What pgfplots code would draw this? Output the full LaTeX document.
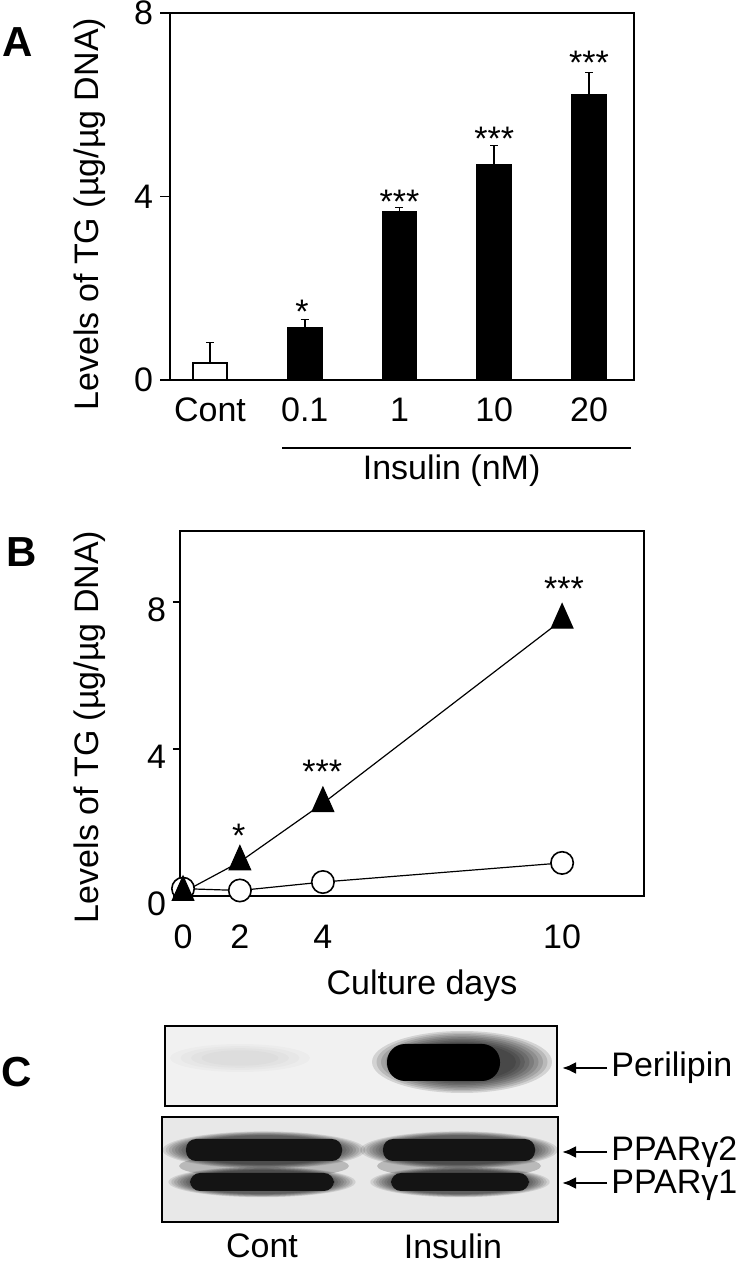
\documentclass[border=0pt]{standalone}
\usepackage{fontspec}
\setmainfont{Liberation Sans}
\usepackage{pgfplots}
\pgfplotsset{compat=1.18}
\usepackage{pgfplotstable}
\usetikzlibrary{arrows.meta}
\definecolor{blotbg}{RGB}{232,232,232}
\definecolor{blotbgtop}{RGB}{241,241,241}

\pgfplotstableread{
x val err
0 0.37 0.46
}\contdata
\pgfplotstableread{
x val err
1 1.13 0.20
2 3.66 0.10
3 4.69 0.42
4 6.22 0.49
}\insdata
\pgfplotstableread{
day pos ctrl ins
0 0 0.20 0.10
2 1.50 0.15 0.93
4 3.69 0.38 2.52
10 10.0 0.90 7.51
}\timedata

\newcommand\band[4]{%
  \foreach \s in {1.30,1.26,1.22,1.18,1.14,1.10,1.06,1.02}{\fill[black,opacity=0.1] (#1,#2) ellipse [x radius={#3*\s}, y radius={#4*\s*1.3}];}
  \fill[black!92, rounded corners=5pt] ({#1-#3},{#2-#4}) rectangle ({#1+#3},{#2+#4});
}

\begin{document}
\begin{tikzpicture}[font=\fontsize{17}{20}\selectfont]
\useasboundingbox (0,0) rectangle (369pt,632.5pt);
% ---------------- Panel A ----------------
\begin{axis}[
  at={(85pt,442.5pt)}, anchor=south west, scale only axis,
  width=232pt, height=183.5pt,
  xmin=-0.422, xmax=4.475, ymin=0, ymax=8,
  axis line style={line width=0.9pt},
  ytick={0,4,8}, ytick pos=left, tick align=outside, major tick length=5pt,
  ytick style={line width=0.9pt, black},
  xtick={0,1,2,3,4}, xticklabels={Cont,0.1,1,10,20}, xtick style={draw=none},
  xticklabel style={yshift=-0.3pt},
  /pgf/number format/assume math mode=true,
  tick label style={font=\fontsize{17}{20}\selectfont},
  ylabel={Levels of TG (µg/µg DNA)},
  ylabel style={at={(axis description cs:-0.172,0.452)}, anchor=center, font=\fontsize{17}{20}\selectfont},
  clip=false,
]
\addplot[ybar, bar width=17pt, bar shift=0pt, fill=white, draw=black, line width=0.8pt,
  error bars/.cd, y dir=plus, y explicit,
  error bar style={line width=0.8pt, black}]
  table[x=x, y=val, y error=err]{\contdata};
\addplot[ybar, bar width=17pt, bar shift=0pt, fill=black, draw=black, line width=0.8pt,
  error bars/.cd, y dir=plus, y explicit,
  error bar style={line width=0.8pt, black}]
  table[x=x, y=val, y error=err]{\insdata};
\node[anchor=base] at (axis cs:0.97,1.23) {*};
\node[anchor=base] at (axis cs:2.0,3.62) {***};
\node[anchor=base] at (axis cs:3.0,5.01) {***};
\node[anchor=base] at (axis cs:4.0,6.67) {***};
\draw[line width=0.9pt] (axis cs:0.76,-1.48) -- (axis cs:4.44,-1.48);
\node at (axis cs:2.55,-1.98) {Insulin (nM)};
\end{axis}
% ---------------- Panel B ----------------
\begin{axis}[
  at={(90pt,184.5pt)}, anchor=south west, scale only axis,
  width=232pt, height=182.5pt,
  xmin=-0.08, xmax=12.16, ymin=0, ymax=9.93,
  axis line style={line width=1.1pt},
  ytick={0,4,8}, ytick pos=left, tick align=outside, major tick length=3.5pt,
  ytick style={line width=1pt, black},
  yticklabel style={yshift=-4pt},
  xtick={0,1.5,3.69,10}, xticklabels={0,2,4,10}, xtick style={draw=none},
  xticklabel style={yshift=-7.3pt},
  /pgf/number format/assume math mode=true,
  tick label style={font=\fontsize{17}{20}\selectfont},
  xlabel={Culture days},
  xlabel style={at={(axis description cs:0.5216,-0.245)}, anchor=center, font=\fontsize{17}{20}\selectfont},
  ylabel={Levels of TG (µg/µg DNA)},
  ylabel style={at={(axis description cs:-0.194,0.463)}, anchor=center, font=\fontsize{17}{20}\selectfont},
  clip=false,
]
\addplot[black, line width=0.6pt, mark=*, mark size=5.6pt, mark options={fill=white, line width=0.8pt}]
  table[x=pos, y=ctrl]{\timedata};
\addplot[black, line width=0.6pt, mark=triangle*, mark size=6.2pt, mark options={fill=black, yscale=1.3}]
  table[x=pos, y=ins]{\timedata};
\node[anchor=base] at (axis cs:1.47,1.31) {*};
\node[anchor=base] at (axis cs:3.67,3.05) {***};
\node[anchor=base] at (axis cs:10.05,8.03) {***};
\end{axis}
% ---------------- Panel labels and blot ----------------
\begin{scope}[x=0.5pt, y=-0.5pt, shift={(0pt,632.5pt)}]
\node[font=\fontsize{21}{24}\selectfont\bfseries] at (18,42) {A};
\node[font=\fontsize{21}{24}\selectfont\bfseries] at (22,552) {B};
\node[font=\fontsize{21}{24}\selectfont\bfseries] at (17,1072) {C};
% top blot
\fill[blotbgtop] (165,1026) rectangle (557,1106);
\begin{scope}
\clip (165,1026) rectangle (557,1106);
\foreach \s in {1,0.85,0.7,0.55}{\fill[black,opacity=0.02] (240,1058) ellipse [x radius={70*\s}, y radius={14*\s}];}
\foreach \s in {1.0,0.95,0.9,0.85,0.8,0.75,0.7,0.65,0.6}{\fill[black,opacity=0.12] (462,1062) ellipse [x radius={90*\s}, y radius={31*\s}];}
\fill[black, rounded corners=9pt] (387,1044) rectangle (500,1081);
\end{scope}
\draw[line width=0.8pt] (165,1026) rectangle (557,1106);
% bottom blot
\fill[blotbg] (162,1117) rectangle (558,1222);
\begin{scope}
\clip (162,1117) rectangle (558,1222);
\fill[black,opacity=0.2] (264,1166) ellipse [x radius=85, y radius=12];
\fill[black,opacity=0.2] (459,1166) ellipse [x radius=82, y radius=12];
\band{264}{1150}{78}{11}
\band{262}{1182}{72}{9}
\band{459}{1150}{76}{11}
\band{460}{1182}{69}{9}
\end{scope}
\draw[line width=0.8pt] (162,1117) rectangle (558,1222);
% arrows and labels
\draw[-{Latex[length=7pt,width=6pt]}, line width=1.4pt] (607,1068) -- (562,1068);
\draw[-{Latex[length=7pt,width=6pt]}, line width=1.4pt] (607,1152) -- (562,1152);
\draw[-{Latex[length=7pt,width=6pt]}, line width=1.4pt] (607,1183) -- (562,1183);
\node[anchor=west, inner sep=0pt] at (611,1068) {Perilipin};
\node[anchor=west, inner sep=0pt] at (611,1152) {PPARγ2};
\node[anchor=west, inner sep=0pt] at (611,1185) {PPARγ1};
\node[inner sep=0pt] at (262,1246) {Cont};
\node[inner sep=0pt] at (453,1246) {Insulin};
\end{scope}
\end{tikzpicture}
\end{document}
